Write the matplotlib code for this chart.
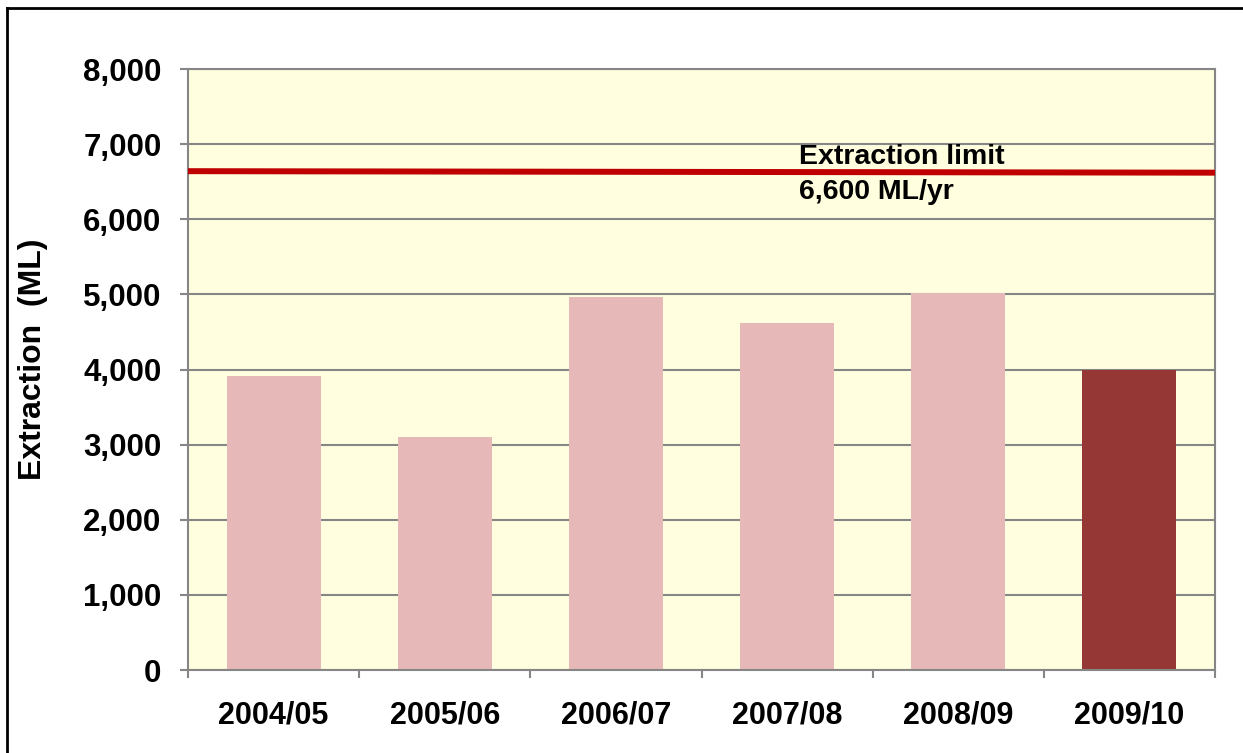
import matplotlib
matplotlib.use("Agg")
import matplotlib.pyplot as plt
from matplotlib.lines import Line2D
import numpy as np

# data
years = ["2004/05", "2005/06", "2006/07", "2007/08", "2008/09", "2009/10"]
extraction = [3920, 3100, 4970, 4620, 5020, 4000]
limit_start = 6640
limit_end = 6620
limit_label = "Extraction limit\n6,600 ML/yr"

light_bar = "#E6B8B7"
dark_bar = "#953735"
bar_colors = [light_bar] * 5 + [dark_bar]

plt.rcParams['font.family'] = ['Liberation Sans', 'DejaVu Sans']
plt.rcParams['font.weight'] = 'bold'

fig = plt.figure(figsize=(12.43, 7.53), dpi=100)
ax = fig.add_axes([188 / 1243, 1 - 670 / 753, (1215 - 188) / 1243, (670 - 69) / 753])
ax.set_facecolor("#FFFFE0")

x = np.arange(len(years))
ax.bar(x, extraction, width=0.55, color=bar_colors, zorder=2)

# extraction limit line
ax.plot([-0.5, len(years) - 0.5], [limit_start, limit_end], color="#C00000", lw=4.3, zorder=3)
ax.text(3.07, 6590, limit_label, fontsize=20.5, fontweight='bold',
        va='center', ha='left', linespacing=1.45, zorder=4)

ax.set_xlim(-0.5, len(years) - 0.5)
ax.set_ylim(0, 8000)
ax.set_yticks(np.arange(0, 8001, 1000))
ax.set_yticklabels([f"{v:,}" for v in range(0, 8001, 1000)])
ax.set_xticks(x)
ax.set_xticklabels(years)
ax.set_xticks(np.arange(-0.5, len(years)), minor=True)

grid_c = "#868686"
ax.yaxis.grid(True, color=grid_c, lw=1.5, zorder=1)
for s in ax.spines.values():
    s.set_color(grid_c)
    s.set_linewidth(1.5)

ax.tick_params(axis='y', labelsize=22.5, length=6, width=1.5, color=grid_c, pad=13)
ax.tick_params(axis='x', which='major', labelsize=22, length=0, pad=22)
ax.tick_params(axis='x', which='minor', length=6, width=1.5, color=grid_c)

ax.set_ylabel("Extraction  (ML)", fontsize=23, fontweight='bold')
ax.yaxis.set_label_coords(-(188 - 48) / (1215 - 188), 0.517)

# outer frame of the chart area
fig.add_artist(Line2D([6.5 / 1243, 6.5 / 1243], [0, 1 - 8 / 753], transform=fig.transFigure, color="black", lw=2))
fig.add_artist(Line2D([6.5 / 1243, 1], [1 - 8 / 753, 1 - 8 / 753], transform=fig.transFigure, color="black", lw=2))

fig.savefig("out.png", dpi=100)
